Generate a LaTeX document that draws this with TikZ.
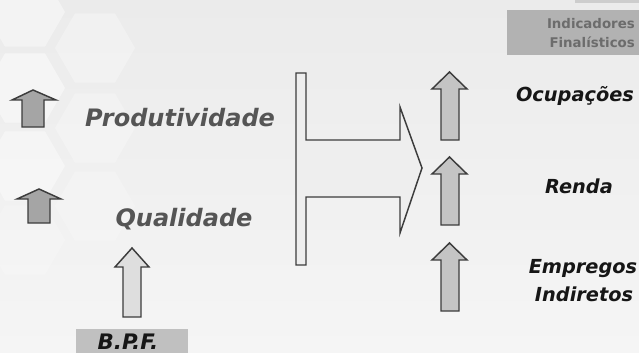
\documentclass[tikz,border=0pt]{standalone}
\usepackage{fontspec}
\setmainfont{DejaVu Sans}
\usetikzlibrary{positioning}

\definecolor{bgtop}{RGB}{235,235,235}
\definecolor{bgbot}{RGB}{245,245,245}
\definecolor{outline}{RGB}{60,60,60}
\definecolor{darkfill}{RGB}{165,165,165}
\definecolor{midfill}{RGB}{196,196,196}
\definecolor{lightfill}{RGB}{222,222,222}
\definecolor{bigfill}{RGB}{238,238,238}
\definecolor{boxgray}{RGB}{178,178,178}
\definecolor{bpfgray}{RGB}{192,192,192}
\definecolor{softtext}{RGB}{85,85,85}
\definecolor{boxtext}{RGB}{108,108,108}

\begin{document}
\begin{tikzpicture}[x=0.75pt,y=0.75pt,yscale=-1,xscale=1,
	blockarrow/.style={draw=outline,line width=1.1pt,line join=miter},
	softlabel/.style={anchor=base,inner sep=0pt,text=softtext,font=\fontsize{18}{21}\selectfont\bfseries\itshape},
	resultlabel/.style={anchor=base,inner sep=0pt,text={rgb,255:red,22;green,22;blue,22},font=\fontsize{14.5}{17}\selectfont\bfseries\itshape},
	boxlabel/.style={anchor=base east,inner sep=0pt,text=boxtext,font=\fontsize{10}{12}\selectfont\bfseries}]
	\useasboundingbox (0,0) rectangle (639,353);
	
	%Shape: Background
	\shade [top color=bgtop,bottom color=bgbot] (0,0) rectangle (639,353);
	%Shape: Hexagons
	\foreach \cx/\cy/\op in {25/12/0.4,95/48/0.3,25/88/0.45,95/128/0.25,25/166/0.4,95/206/0.2,25/240/0.2}
		\fill [white,opacity=\op,shift={(\cx,\cy)}] (0:40) -- (60:40) -- (120:40) -- (180:40) -- (240:40) -- (300:40) -- cycle ;
	
	%Shape: Rectangle [Indicadores]
	\fill [boxgray] (507,10) rectangle (639,55) ;
	\fill [bpfgray!80] (575,-1) rectangle (639,3) ;
	%Shape: Rectangle [B.P.F.]
	\fill [bpfgray] (76,329) rectangle (188,354) ;
	
	%Shape: Up Arrow [Produtividade]
	\draw [blockarrow,fill=darkfill] (33,90) -- (56,100) -- (44,100) -- (44,127) -- (22,127) -- (22,100) -- (12,100) -- cycle ;
	%Shape: Up Arrow [Qualidade]
	\draw [blockarrow,fill=darkfill] (39,189) -- (61,199) -- (50,199) -- (50,223) -- (28,223) -- (28,199) -- (17,199) -- cycle ;
	%Shape: Up Arrow [B.P.F.]
	\draw [blockarrow,fill=lightfill] (132,248) -- (149,267) -- (141,267) -- (141,317) -- (123,317) -- (123,267) -- (115,267) -- cycle ;
	%Shape: Up Arrows [indicadores]
	\foreach \t in {72,157,243}
		\draw [blockarrow,fill=midfill] (449.5,\t) -- (467,\t+17) -- (459,\t+17) -- (459,\t+68) -- (441,\t+68) -- (441,\t+17) -- (432,\t+17) -- cycle ;
	
	%Shape: Bar with Right Arrow
	\draw [blockarrow,fill=bigfill] (296,73) -- (306,73) -- (306,140) -- (400,140) -- (400,107) -- (422,168) -- (400,233) -- (400,197) -- (306,197) -- (306,265) -- (296,265) -- cycle ;
	
	% Text Node
	\node [softlabel] (prod) at (180,127) {Produtividade};
	% Text Node
	\node [softlabel] (qual) at (184,226) {Qualidade};
	% Text Node
	\node [resultlabel] (ocup) at (575,102) {Ocupações};
	% Text Node
	\node [resultlabel] (renda) at (579,193) {Renda};
	% Text Node
	\node [resultlabel] (empr) at (583,273) {Empregos};
	% Text Node
	\node [resultlabel] (indir) at (584,301) {Indiretos};
	% Text Node
	\node [boxlabel] (indic) at (635,29) {Indicadores};
	% Text Node
	\node [boxlabel] (final) at (635,48) {Finalísticos};
	% Text Node
	\node [resultlabel,font=\fontsize{16}{18}\selectfont\bfseries\itshape] (bpf) at (128,349) {B.P.F.};
	
\end{tikzpicture}
\end{document}
